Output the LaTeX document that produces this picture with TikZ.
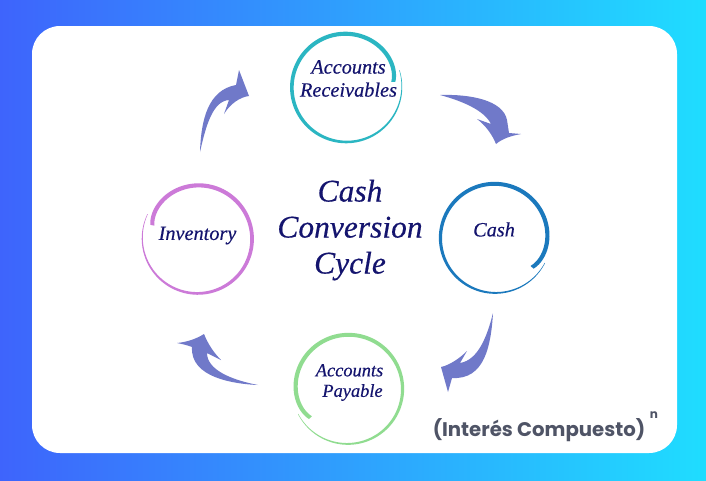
\documentclass[tikz,border=0pt]{standalone}
\usepackage{fontspec}
\setmainfont{Liberation Serif}
\newfontfamily\inkfont[ItalicFeatures={FakeBold=0.35}]{Liberation Serif}
\newfontfamily\markfont{Poppins}
\definecolor{navytext}{HTML}{14146E}
\definecolor{arrowblue}{HTML}{7079C9}
\definecolor{marktext}{HTML}{4F5466}
\definecolor{ringteal}{HTML}{2BB6C2}
\definecolor{ringblue}{HTML}{1B79BD}
\definecolor{ringpink}{HTML}{CC7AD8}
\definecolor{ringgreen}{HTML}{90DC90}
\definecolor{bgleft}{HTML}{3E64FC}
\definecolor{bgright}{HTML}{1FDDFF}
% center x, center y, first angle, sweep, colour
\newcommand{\brushring}[5]{%
  \fill[#5] plot[domain=0:1,samples=140,variable=\t]
      ({#1+(ringrad(\t)+ringwid(\t)/2)*cos(#3+#4*\t)},{#2-(ringrad(\t)+ringwid(\t)/2)*sin(#3+#4*\t)})
    -- plot[domain=1:0,samples=140,variable=\t]
      ({#1+(ringrad(\t)-ringwid(\t)/2)*cos(#3+#4*\t)},{#2-(ringrad(\t)-ringwid(\t)/2)*sin(#3+#4*\t)})
    -- cycle;}
\begin{document}
\begin{tikzpicture}[x=1pt, y=-1pt,
   declare function={ringrad(\t)=52.5+3.5*\t-5*exp(-\t*22); ringwid(\t)=0.4+3.8*(1-\t^2.5);},
   label/.style={font=\inkfont\itshape\fontsize{20.3}{23}\selectfont, text=navytext, align=center, inner sep=0pt},
   smalllabel/.style={font=\inkfont\itshape\fontsize{18.4}{20.5}\selectfont, text=navytext, align=center, inner sep=0pt},
   title/.style={font=\inkfont\itshape\fontsize{31.5}{36}\selectfont, text=navytext, align=center, inner sep=0pt},
   swoosh/.style={fill=arrowblue, draw=none}]
\useasboundingbox (0,0) rectangle (706,480);
\shade[left color=bgleft, right color=bgright] (0,0) rectangle (706,480);
\fill[white, rounded corners=28pt] (32,26) rectangle (677,453);
% rings
\brushring{346}{87}{6}{371.5}{ringteal}
\brushring{495}{237.5}{-39}{372}{ringblue}
\brushring{348}{388.5}{218}{-371}{ringgreen}
\brushring{198}{238.5}{164}{-370}{ringpink}
% labels
\node[label] (receivables) at (348.5,78.5) {Accounts\\Receivables};
\node[label] (cash) at (494,229.5) {Cash};
\node[smalllabel] (payable) at (349.5,382.5) {Accounts\\\hspace{6pt}Payable};
\node[label] (inventory) at (197.5,235.5) {Inventory};
\node[title] (cycle) at (350,230) {Cash\\Conversion\\Cycle};
% arrows
\fill[swoosh] (200,152) .. controls (201,120) and (208,90) .. (236,85) -- (239,70) -- (249,96)
  .. controls (240,97) and (230,104) .. (224,114) -- (229,100) .. controls (213,101) and (206,125) .. cycle;
\fill[swoosh] (440,95) .. controls (470,94) and (503,100) .. (507,120) -- (509,133) -- (521,134)
  .. controls (510,136) and (502,139) .. (496,144) .. controls (492,134) and (485,125) .. (477,119)
  -- (491,124) .. controls (484,110) and (462,101) .. cycle;
\fill[swoosh] (493,313) .. controls (491,345) and (485,380) .. (452,378) -- (448,392) -- (441,367)
  .. controls (450,365) and (460,358) .. (467,351) -- (460,363) .. controls (478,360) and (487,337) .. cycle;
\fill[swoosh] (258,385) .. controls (235,384) and (190,378) .. (192,347)
  .. controls (187,345) and (182,344) .. (177,343) .. controls (187,342) and (196,339) .. (204,334)
  .. controls (208,344) and (214,353) .. (221,360) -- (207,353) .. controls (207,370) and (232,380) .. cycle;
% watermark
\node[font=\markfont\bfseries\fontsize{19.7}{25}\selectfont, text=marktext, inner sep=0pt] (mark) at (539,430) {(Interés Compuesto)};
\node[font=\markfont\bfseries\fontsize{12}{14}\selectfont, text=marktext, inner sep=0pt] (power) at (654,415) {n};
\end{tikzpicture}
\end{document}
